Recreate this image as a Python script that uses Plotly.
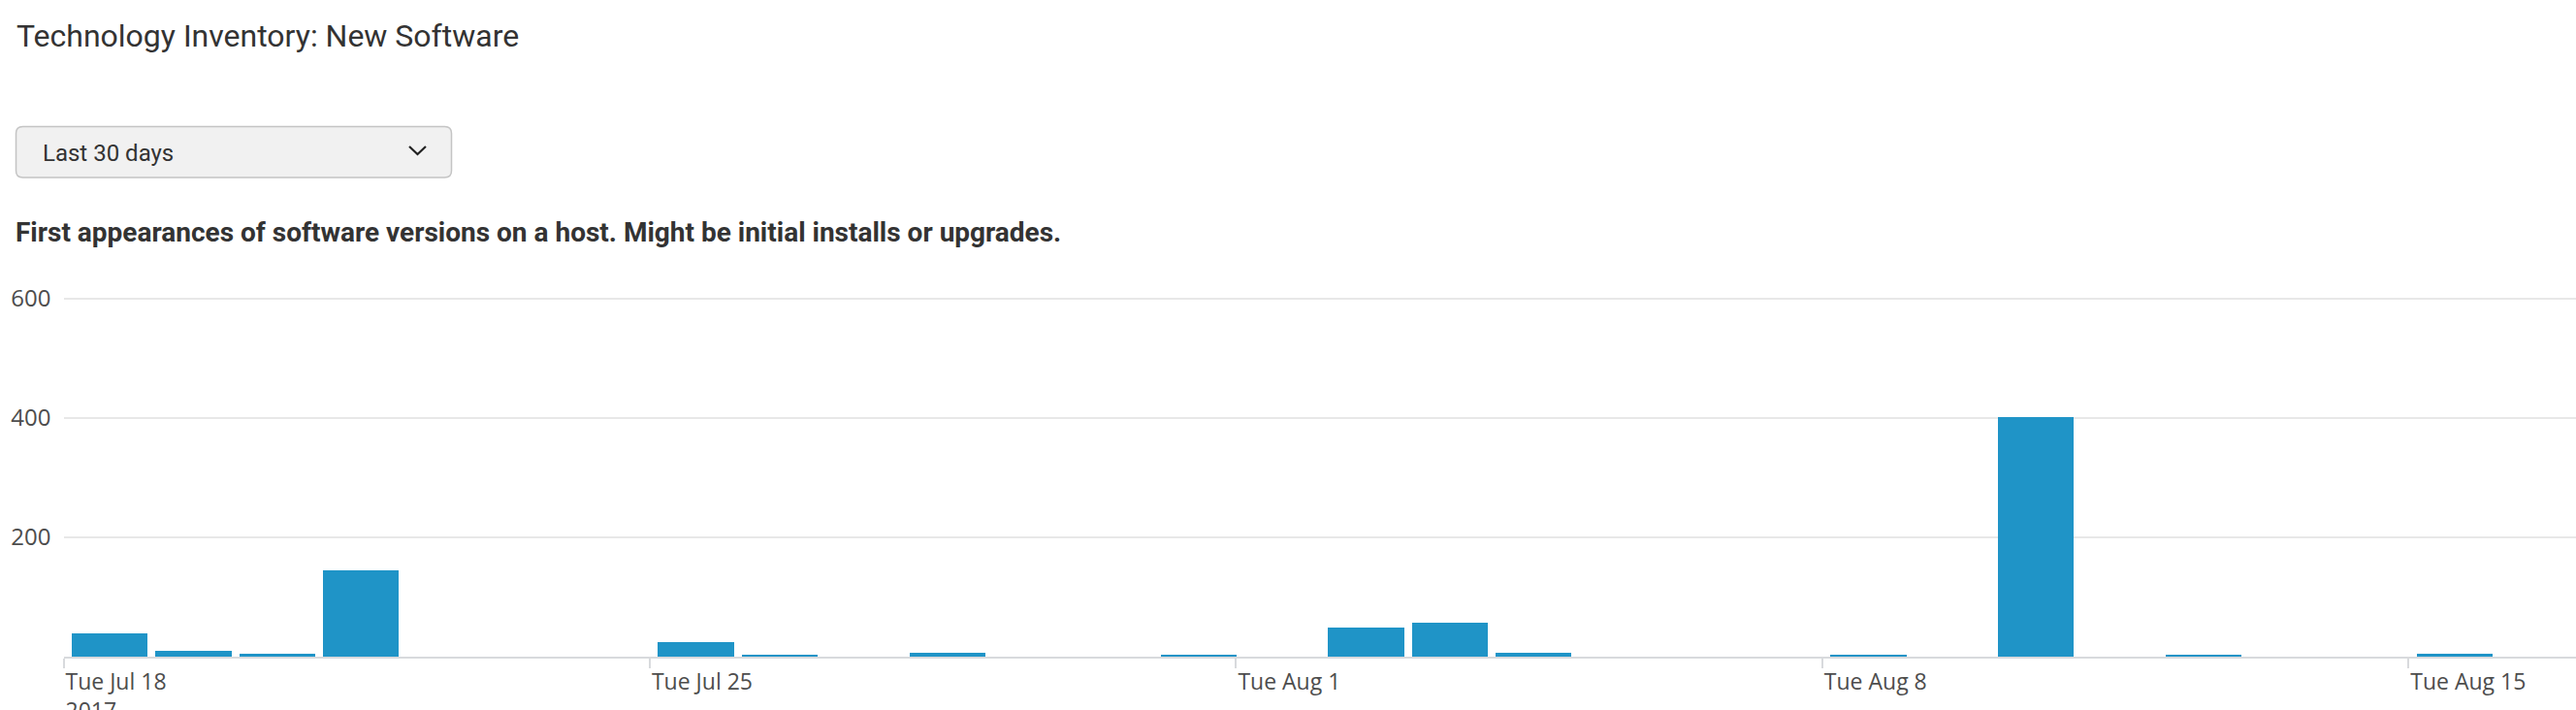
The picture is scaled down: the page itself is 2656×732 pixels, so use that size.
import plotly.graph_objects as go

# Daily counts of first-seen software versions (last 30 days)
days = [
    "2017-07-18", "2017-07-19", "2017-07-20", "2017-07-21", "2017-07-22",
    "2017-07-23", "2017-07-24", "2017-07-25", "2017-07-26", "2017-07-27",
    "2017-07-28", "2017-07-29", "2017-07-30", "2017-07-31", "2017-08-01",
    "2017-08-02", "2017-08-03", "2017-08-04", "2017-08-05", "2017-08-06",
    "2017-08-07", "2017-08-08", "2017-08-09", "2017-08-10", "2017-08-11",
    "2017-08-12", "2017-08-13", "2017-08-14", "2017-08-15", "2017-08-16",
]
new_versions = [
    40, 11, 5, 145, 0,
    0, 0, 25, 4, 0,
    8, 0, 0, 4, 0,
    50, 57, 8, 0, 0,
    0, 4, 0, 402, 0,
    4, 0, 0, 6, 0,
]

week_ticks = ["2017-07-18", "2017-07-25", "2017-08-01", "2017-08-08", "2017-08-15"]
week_labels = ["Tue Jul 18<br>2017", "Tue Jul 25", "Tue Aug 1", "Tue Aug 8", "Tue Aug 15"]
y_ticks = [200, 400, 600]

W, H = 2656, 732
DAY_MS = 86400000
gap = 0.0926  # fraction of a day left empty before each bar

def px(x):
    return x / W

def py(y):
    return 1 - y / H

fig = go.Figure()
fig.add_trace(go.Bar(
    x=days,
    y=new_versions,
    offset=gap * DAY_MS,
    width=(1 - gap) * DAY_MS,
    marker=dict(color="#1f94c7", line=dict(width=0)),
    hoverinfo="x+y",
))

tick_font = dict(family="Open Sans, DejaVu Sans, sans-serif", size=23, color="#4d4d4d")

# value range slightly above 600 so the top gridline is drawn inside the plot
y_top = 604
px_per_unit = 0.615
fig.update_layout(
    template="none",
    width=W,
    height=H,
    margin=dict(l=0, r=0, t=0, b=0),
    paper_bgcolor="white",
    plot_bgcolor="white",
    showlegend=False,
    bargap=0,
    xaxis=dict(
        type="date",
        automargin=False,
        domain=[px(65.5), 1],
        range=["2017-07-18", "2017-08-17"],
        tickmode="array",
        tickvals=week_ticks,
        ticktext=week_labels,
        ticks="outside",
        ticklen=10,
        tickwidth=2,
        tickcolor="#d8dadd",
        ticklabelposition="outside right",
        ticklabelstandoff=4,
        tickfont=tick_font,
        showline=True,
        linecolor="#d8dadd",
        linewidth=2,
        showgrid=False,
        zeroline=False,
        fixedrange=True,
    ),
    yaxis=dict(
        automargin=False,
        domain=[py(677), py(677 - y_top * px_per_unit)],
        range=[0, y_top],
        tickmode="array",
        tickvals=y_ticks,
        ticks="",
        ticklabelstandoff=12,
        tickfont=dict(tick_font, size=24),
        showgrid=True,
        gridcolor="#e8e8e8",
        gridwidth=2,
        zeroline=False,
        showline=False,
        fixedrange=True,
    ),
)

# Dropdown box with rounded corners
x0, x1, y0, y1, r = 16.5, 465.5, 130.5, 183, 7
path = (
    f"M {px(x0 + r)} {py(y0)} L {px(x1 - r)} {py(y0)} "
    f"Q {px(x1)} {py(y0)} {px(x1)} {py(y0 + r)} "
    f"L {px(x1)} {py(y1 - r)} Q {px(x1)} {py(y1)} {px(x1 - r)} {py(y1)} "
    f"L {px(x0 + r)} {py(y1)} Q {px(x0)} {py(y1)} {px(x0)} {py(y1 - r)} "
    f"L {px(x0)} {py(y0 + r)} Q {px(x0)} {py(y0)} {px(x0 + r)} {py(y0)} Z"
)
fig.add_shape(type="path", path=path, xref="paper", yref="paper",
              fillcolor="#f1f1f1", line=dict(color="#c4c4c4", width=1.5), layer="above")

# Chevron inside the dropdown
chev = f"M {px(422)} {py(151)} L {px(430.5)} {py(159)} L {px(439)} {py(151)}"
fig.add_shape(type="path", path=chev, xref="paper", yref="paper",
              line=dict(color="#222222", width=2.2), layer="above")

fig.add_annotation(
    text="Technology Inventory: New Software",
    xref="paper", yref="paper", x=px(15), y=py(37),
    xanchor="left", yanchor="middle", showarrow=False,
    font=dict(family="Roboto, sans-serif", size=32, color="#333333"),
)
fig.add_annotation(
    text="Last 30 days",
    xref="paper", yref="paper", x=px(42), y=py(158),
    xanchor="left", yanchor="middle", showarrow=False,
    font=dict(family="Roboto, sans-serif", size=24, color="#333333"),
)
fig.add_annotation(
    text="<b>First appearances of software versions on a host. Might be initial installs or upgrades.</b>",
    xref="paper", yref="paper", x=px(14), y=py(240),
    xanchor="left", yanchor="middle", showarrow=False,
    font=dict(family="Roboto, sans-serif", size=28, color="#333333"),
)

fig.write_html("out.html")
